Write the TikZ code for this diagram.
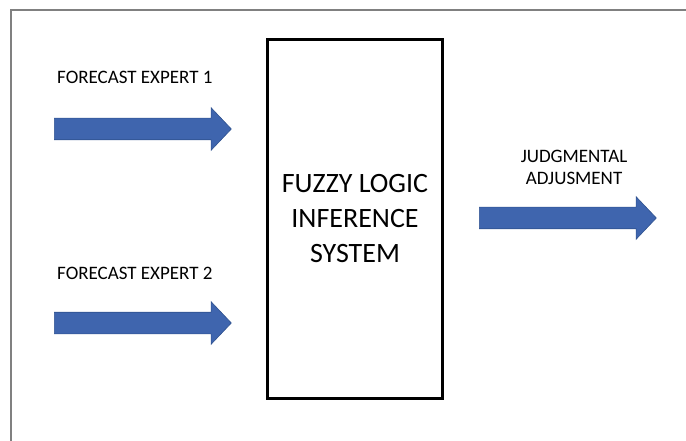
\documentclass[tikz,border=0pt]{standalone}
\usepackage{fontspec}
\setmainfont{Carlito}
\usetikzlibrary{shapes.arrows}
\definecolor{arrowfill}{RGB}{63,101,174}
\definecolor{arrowedge}{RGB}{47,82,143}
\definecolor{framegray}{RGB}{128,128,128}
\tikzset{
  blockarrow/.style={single arrow, fill=arrowfill, draw=arrowedge, line width=0.6pt,
    inner sep=0pt, minimum height=177pt,
    single arrow head extend=10.5pt, single arrow tip angle=93, anchor=tail},
  label/.style={inner sep=0pt, font=\fontsize{19pt}{21.5pt}\selectfont},
  fisbox/.style={draw=black, line width=3pt, minimum width=175pt, minimum height=359pt,
    align=center, font=\fontsize{28pt}{35pt}\selectfont}
}
% shaft thickness of the block arrows
\newcommand{\shaft}{\rule{0pt}{21pt}}
\begin{document}
\begin{tikzpicture}[x=1pt,y=-1pt]
  \useasboundingbox (0,0) rectangle (686,441);
  % page frame (only top and left edges fall inside the view)
  \draw[framegray, line width=2pt] (11,445) -- (11,10.3) -- (690,10.3);

  % inference block
  \node[fisbox] (fis) at (355,219) {FUZZY LOGIC\\INFERENCE\\SYSTEM};

  % inputs
  \node[label, anchor=base west] (lbl1) at (57,84) {FORECAST EXPERT 1};
  \node[blockarrow] (in1) at (54,129) {\shaft};
  \node[label, anchor=base west] (lbl2) at (57,279) {FORECAST EXPERT 2};
  \node[blockarrow] (in2) at (54,323) {\shaft};

  % output (base anchor sits on the last line's baseline)
  \node[label, anchor=base, align=center] (lblout) at (574,184.5) {JUDGMENTAL\\ADJUSMENT};
  \node[blockarrow] (out) at (479,218) {\shaft};
\end{tikzpicture}
\end{document}
